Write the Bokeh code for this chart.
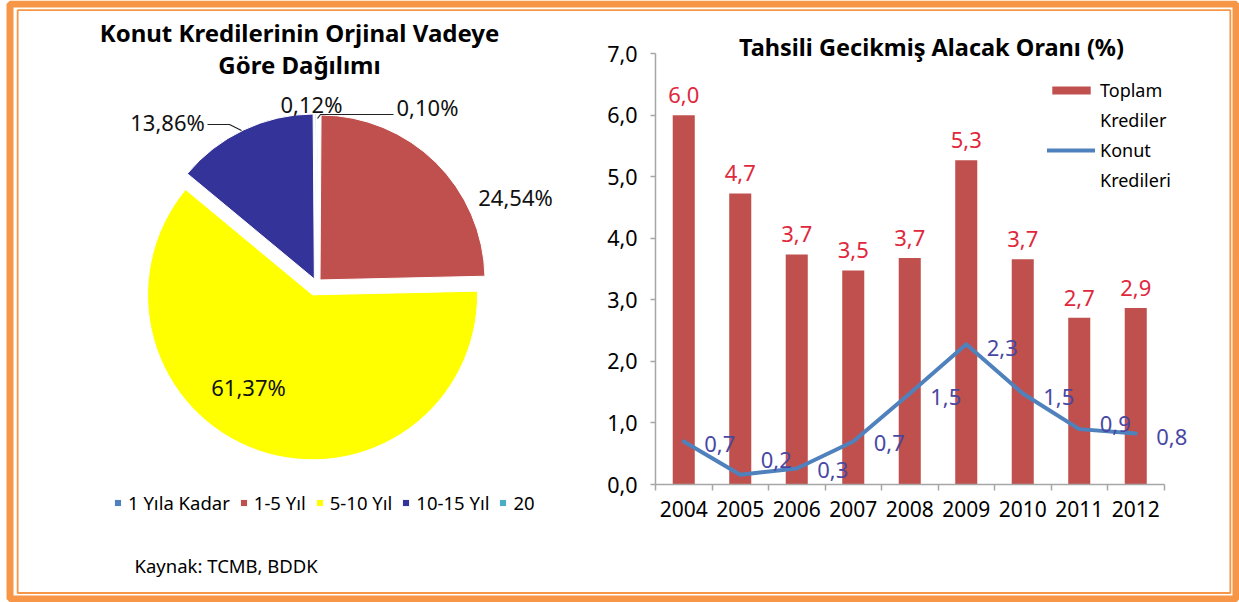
import numpy as np
from bokeh.plotting import figure
from bokeh.models import (ColumnDataSource, Range1d, FixedTicker, CustomJSTickFormatter,
                          Legend, LegendItem, LabelSet)
from bokeh.embed import file_html
from bokeh.resources import INLINE
from bokeh.core.properties import value

# ---------------- data ----------------
pie_title = ["Konut Kredilerinin Orjinal Vadeye", "Göre Dağılımı"]
pie_categories = ["1 Yıla Kadar", "1-5 Yıl", "5-10 Yıl", "10-15 Yıl", "20"]
pie_shares = [0.10, 24.54, 61.37, 13.86, 0.12]
pie_colors = ["#4F81BD", "#C0504D", "#FFFF00", "#333399", "#4BACC6"]
source_note = "Kaynak: TCMB, BDDK"

bar_title = "Tahsili Gecikmiş Alacak Oranı (%)"
years = ["2004", "2005", "2006", "2007", "2008", "2009", "2010", "2011", "2012"]
total_loans = [6.0, 4.73, 3.74, 3.48, 3.68, 5.27, 3.66, 2.71, 2.87]
housing_loans = [0.70, 0.16, 0.26, 0.70, 1.48, 2.28, 1.48, 0.90, 0.83]
series_names = [["Toplam", "Krediler"], ["Konut", "Kredileri"]]
y_ticks = [0, 1, 2, 3, 4, 5, 6, 7]

# ---------------- layout constants (page pixels) ----------------
FONT = "Noto Sans"
ORANGE = "#F79646"
W, H = 1239, 602          # canvas
L, T = 0, 0               # page position of the canvas
X0, Y0 = 655, 484         # page position of the bar chart origin
PX = 56.5                 # pixels per category
PY = (Y0 - 53.3) / 7      # pixels per percentage point


def dx(X):
    return (X - X0) / PX


def dy(Y):
    return (Y0 - Y) / PY


def fmt(v, d=1):
    return f"{v:.{d}f}".replace(".", ",")


p = figure(width=W, height=H,
           x_range=Range1d(dx(L), dx(L + W)), y_range=Range1d(dy(T + H), dy(T)),
           min_border=0, toolbar_location=None, output_backend="svg")
p.outline_line_color = None
p.grid.visible = False
p.background_fill_color = "white"

# ---------------- orange frame ----------------
p.rect(x=[dx((6 + 1239) / 2)], y=[dy(301)], width=[1233 - 7], height=[602 - 7],
       width_units="screen", height_units="screen", fill_alpha=0,
       line_color=ORANGE, line_width=7)
p.rect(x=[dx(623.5)], y=[dy(301.1)], width=[1212.7], height=[582.8],
       width_units="screen", height_units="screen", fill_alpha=0,
       line_color=ORANGE, line_width=1.8)

# ---------------- pie ----------------
shares = np.array(pie_shares, dtype=float)
frac = shares / shares.sum()
c1 = np.cumsum(frac)
c0 = c1 - frac
start = np.pi / 2 - 2 * np.pi * c1
end = np.pi / 2 - 2 * np.pi * c0
mid = (start + end) / 2
explode = np.array([5, 5, 12, 5, 5], dtype=float)
PCX, PCY, R = 316, 283, 165
wsrc = ColumnDataSource(dict(
    x=dx(PCX) + explode * np.cos(mid) / PX,
    y=dy(PCY) + explode * np.sin(mid) / PY,
    start=start, end=end, color=pie_colors, cat=pie_categories))
wr = p.wedge(x="x", y="y", radius=R, radius_units="screen",
             start_angle="start", end_angle="end", direction="anticlock",
             fill_color="color", line_color="white", line_width=1, source=wsrc)

label_pos = [(427, 106), (515, 196), (248, 386), (167, 121), (311, 103)]
p.text(x=[dx(a) for a, b in label_pos], y=[dy(b) for a, b in label_pos],
       text=[fmt(s, 2) + "%" for s in pie_shares], text_align="center",
       text_baseline="middle", text_font=value(FONT), text_font_size="22px",
       text_color="#111111")
p.line([dx(317), dx(320), dx(393)], [dy(118), dy(114), dy(114)],
       line_color="#222222", line_width=1.2)
p.line([dx(207), dx(229), dx(241)], [dy(124), dy(124), dy(130)],
       line_color="#222222", line_width=1.2)

p.text(x=[dx(299), dx(299)], y=[dy(32), dy(64)], text=pie_title,
       text_align="center", text_baseline="middle", text_font=value(FONT),
       text_font_style="bold", text_font_size="24px", text_color="#000000")
p.text(x=[dx(134)], y=[dy(565)], text=[source_note], text_align="left",
       text_baseline="middle", text_font=value(FONT), text_font_size="18.5px",
       text_color="#000000")

leg1 = Legend(items=[LegendItem(label=c, renderers=[wr], index=i)
                     for i, c in enumerate(pie_categories)],
              orientation="horizontal", location=(113 - L, T + H - 515),
              glyph_width=9, glyph_height=9, label_standoff=6, spacing=9,
              padding=0, margin=0, border_line_color=None,
              background_fill_alpha=0, label_text_font=FONT,
              label_text_font_size="18.5px", label_text_color="#000000")
p.add_layout(leg1)

# ---------------- bars + line ----------------
xs = np.arange(len(years)) + 0.5
bsrc = ColumnDataSource(dict(x=xs, top=total_loans,
                             tl=[fmt(v) for v in total_loans]))
br = p.vbar(x="x", top="top", bottom=0, width=0.39, fill_color="#C0504D",
            line_color=None, source=bsrc)
lsrc = ColumnDataSource(dict(x=xs, y=housing_loans,
                             tl=[fmt(v) for v in housing_loans],
                             oy=[-3, 15, -1, -2, -4, -4, -4, 5, -4]))
lr = p.line(x="x", y="y", line_width=4, line_color="#4F81BD",
            line_join="round", line_cap="round", source=lsrc)
blank = p.line(x=[], y=[], line_alpha=0)

p.add_layout(LabelSet(x="x", y="top", text="tl", source=bsrc, y_offset=20,
                      text_align="center", text_baseline="middle",
                      text_font=value(FONT), text_font_size="22px",
                      text_color="#E0283C"))
p.add_layout(LabelSet(x="x", y="y", text="tl", source=lsrc, x_offset=36,
                      y_offset="oy", text_align="center",
                      text_baseline="middle", text_font=value(FONT),
                      text_font_size="22px", text_color="#4848A4"))

p.text(x=[dx(931)], y=[dy(46)], text=[bar_title], text_align="center",
       text_baseline="middle", text_font=value(FONT), text_font_style="bold",
       text_font_size="23.5px", text_color="#000000")

AX = "#A6A6A6"
xa = p.xaxis[0]
xa.fixed_location = 0
xa.bounds = (0, len(years))
xa.ticker = FixedTicker(ticks=list(xs), minor_ticks=list(range(len(years) + 1)))
xa.major_label_overrides = {float(x): y for x, y in zip(xs, years)}
xa.major_tick_line_color = None
xa.major_tick_out = 6
xa.minor_tick_out = 6
xa.minor_tick_in = 0
xa.minor_tick_line_color = AX
xa.minor_tick_line_width = 1.5
xa.axis_line_color = AX
xa.axis_line_width = 1.5
xa.major_label_standoff = 10
xa.major_label_text_font = FONT
xa.major_label_text_font_size = "21px"
xa.major_label_text_color = "#000000"

ya = p.yaxis[0]
ya.fixed_location = 0
ya.bounds = (y_ticks[0], y_ticks[-1])
ya.ticker = FixedTicker(ticks=y_ticks, minor_ticks=[])
ya.formatter = CustomJSTickFormatter(code="return tick.toFixed(1).replace('.', ',')")
ya.major_tick_out = 5
ya.major_tick_in = 0
ya.major_tick_line_color = AX
ya.major_tick_line_width = 1.5
ya.axis_line_color = AX
ya.axis_line_width = 1.5
ya.major_label_standoff = 13
ya.major_label_text_font = FONT
ya.major_label_text_font_size = "21.5px"
ya.major_label_text_color = "#000000"

leg2 = Legend(items=[
    LegendItem(label=series_names[0][0], renderers=[br]),
    LegendItem(label=series_names[0][1], renderers=[blank]),
    LegendItem(label=series_names[1][0], renderers=[lr]),
    LegendItem(label=series_names[1][1], renderers=[blank]),
], location=(1047 - L, T + H - 195), glyph_width=48, glyph_height=10,
    label_height=30, label_standoff=5, spacing=0, padding=0, margin=0,
    border_line_color=None, background_fill_alpha=0, label_text_font=FONT,
    label_text_font_size="18px", label_text_color="#000000")
p.add_layout(leg2)

open("out.html", "w").write(file_html(p, INLINE))
